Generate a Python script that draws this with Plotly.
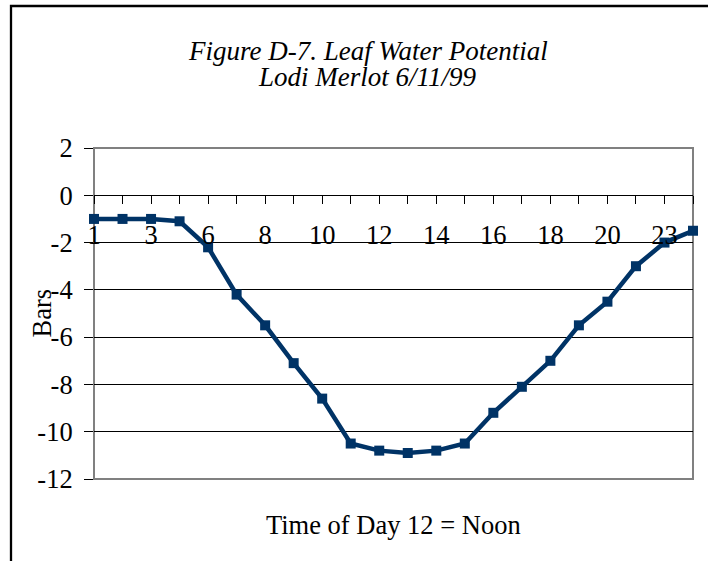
import plotly.graph_objects as go

# ---- data ----
hours = ["1", "2", "3", "5", "6", "7", "8", "9", "10", "11", "12",
         "13", "14", "15", "16", "17", "18", "19", "20", "21", "23", "24"]
bars = [-1.0, -1.0, -1.0, -1.1, -2.2, -4.2, -5.5, -7.1, -8.6, -10.5, -10.8,
        -10.9, -10.8, -10.5, -9.2, -8.1, -7.0, -5.5, -4.5, -3.0, -2.0, -1.5]
tick_text = [h if i % 2 == 0 else "" for i, h in enumerate(hours)]
y_ticks = [2, 0, -2, -4, -6, -8, -10, -12]
y_tick_text = ["2", "0", "-2", "-4", "-6", "-8", "-10", "-12"]

title_line1 = "Figure D-7. Leaf Water Potential"
title_line2 = "Lodi Merlot 6/11/99"
x_title = "Time of Day 12 = Noon"
y_title = "Bars"

FONT = "Liberation Serif"
NAVY = "#003366"

W, H = 708, 561
# plot area in window pixels
L, R, T, B = 94, 693, 148, 479


def px(x):
    return (x - L) / (R - L)


def py(y):
    return (B - y) / (B - T)


fig = go.Figure()
fig.add_trace(go.Scatter(
    x=hours, y=bars, mode="lines+markers",
    line=dict(color=NAVY, width=4.5),
    marker=dict(symbol="square", size=10, color=NAVY, line=dict(width=0)),
    cliponaxis=False, showlegend=False,
))

fig.update_layout(
    width=W, height=H,
    margin=dict(l=L, r=W - R, t=T, b=H - B, pad=0),
    paper_bgcolor="white", plot_bgcolor="white",
    font=dict(family=FONT, size=26.5, color="black"),
    showlegend=False,
    xaxis=dict(
        type="category", range=[0, len(hours) - 1],
        anchor="free", position=12 / 14,
        showline=True, linecolor="black", linewidth=1,
        showgrid=False, zeroline=False,
        tickmode="array", tickvals=hours, ticktext=tick_text,
        ticks="outside", ticklen=8, tickwidth=1, tickcolor="black",
        ticklabelstandoff=8,
        tickfont=dict(family=FONT, size=26.5, color="black"),
    ),
    yaxis=dict(
        range=[-12, 2], tickmode="array", tickvals=y_ticks, ticktext=y_tick_text,
        showgrid=True, gridcolor="black", gridwidth=1,
        zeroline=False, showline=False,
        ticks="outside", ticklen=9, tickwidth=1, tickcolor="black",
        ticklabelstandoff=6,
        tickfont=dict(family=FONT, size=26.5, color="black"),
    ),
)

# plot-area border (gray)
fig.add_shape(type="rect", xref="paper", yref="paper", x0=0, x1=1, y0=0, y1=1,
              line=dict(color="#808080", width=2), fillcolor="rgba(0,0,0,0)",
              layer="between")
# outer chart border (cropped at right and bottom)
fig.add_shape(type="rect", xref="paper", yref="paper",
              x0=px(11), x1=px(740), y0=py(6), y1=py(610),
              line=dict(color="black", width=2.3), fillcolor="rgba(0,0,0,0)",
              layer="above")

fig.add_annotation(text="<i>" + title_line1 + "</i>", xref="paper", yref="paper",
                   x=px(367.5), y=py(51), showarrow=False,
                   xanchor="center", yanchor="middle",
                   font=dict(family=FONT, size=27, color="black"))
fig.add_annotation(text="<i>" + title_line2 + "</i>", xref="paper", yref="paper",
                   x=px(367.5), y=py(77), showarrow=False,
                   xanchor="center", yanchor="middle",
                   font=dict(family=FONT, size=27, color="black"))
fig.add_annotation(text=x_title, xref="paper", yref="paper",
                   x=px(393.3), y=py(524.5), showarrow=False,
                   xanchor="center", yanchor="middle",
                   font=dict(family=FONT, size=26.5, color="black"))
fig.add_annotation(text=y_title, xref="paper", yref="paper",
                   x=px(41), y=py(313.5), showarrow=False, textangle=-90,
                   xanchor="center", yanchor="middle",
                   font=dict(family=FONT, size=26.5, color="black"))

# remove the default 8px page margin so the figure fills the window exactly
fig.write_html("out.html", config={"displayModeBar": False},
               post_script="document.body.style.margin='0px';")
